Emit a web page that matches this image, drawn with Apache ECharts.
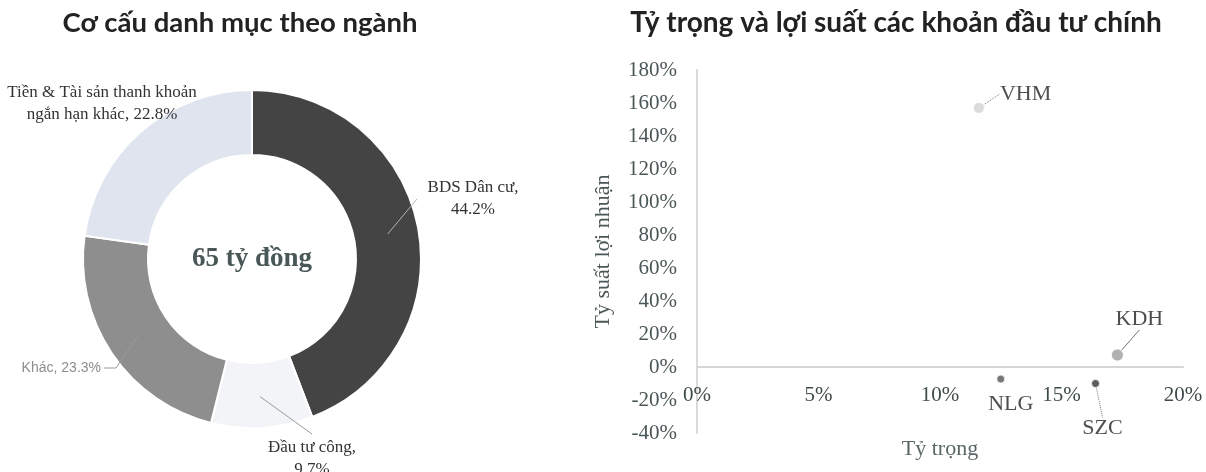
<!DOCTYPE html>
<html><head><meta charset="utf-8">
<script src="https://cdn.jsdelivr.net/npm/echarts@6/dist/echarts.min.js"></script>
<style>html,body{margin:0;padding:0;background:#fff}#c{width:1206px;height:472px}</style>
</head><body><div id="c"></div>
<script>
// ---- data ----
const pieCategories = ['BDS Dân cư', 'Đầu tư công', 'Khác', 'Tiền & Tài sản thanh khoản ngắn hạn khác'];
const pieValues = [44.2, 9.7, 23.3, 22.8];
const pieLabelNames = ['BDS Dân cư,\n', 'Đầu tư công,\n', 'Khác, ', 'Tiền & Tài sản thanh khoản\nngắn hạn khác, '];
const pieColors = ['#444444', '#f2f4f8', '#8e8e8e', '#dfe4ee'];
const pieCenterText = '65 tỷ đồng';

const stocks = ['VHM', 'KDH', 'NLG', 'SZC'];
const weights = [0.116, 0.173, 0.125, 0.164];
const returns = [1.57, 0.073, -0.073, -0.10];

const xTickValues = [0, 0.05, 0.10, 0.15, 0.20];
const yTickValues = [-0.4, -0.2, 0, 0.2, 0.4, 0.6, 0.8, 1.0, 1.2, 1.4, 1.6, 1.8];
const pct = v => Math.round(v * 100) + '%';

// ---- layout ----
const PC = [252, 259];
const total = pieValues.reduce((a, b) => a + b, 0);
function midAngle(i) {
  let s = 0; for (let j = 0; j < i; j++) s += pieValues[j];
  return (s + pieValues[i] / 2) / total * 2 * Math.PI;
}
function ringPt(i, r) { const a = midAngle(i); return [PC[0] + r * Math.sin(a), PC[1] - r * Math.cos(a)]; }
const piePlace = [
  { x: 473, y: 199, align: 'center', line: [[417, 199]] },
  { x: 312, y: 459, align: 'center', line: [[312, 434]] },
  { x: 101, y: 368, align: 'right', line: [[116, 368], [104, 368]] },
  { x: 102, y: 104, align: 'center', line: null }
];
const scatterPlace = {
  VHM: { dx: 21, dy: -14, align: 'left', line: [[0, -4], [1, -15], [11, -15]], dash: 'dotted' },
  KDH: { dx: 22, dy: -36, align: 'center', line: [[3, -3], [22, -19]], dash: 'solid' },
  NLG: { dx: 10, dy: 25, align: 'center', line: null },
  SZC: { dx: 7, dy: 45, align: 'center', line: [[1, 4], [5, 27]], dash: 'dotted' }
};
const markerStyle = {
  VHM: { size: 11, color: '#d2d2d2' },
  KDH: { size: 12, color: '#9c9c9c' },
  NLG: { size: 8, color: '#555555' },
  SZC: { size: 8, color: '#333333' }
};

const serif = 'Liberation Serif';
const pieData = pieCategories.map((n, i) => ({ name: n, value: pieValues[i] }));
const chart = echarts.init(document.getElementById('c'), null, { renderer: 'canvas' });
chart.setOption({
  backgroundColor: '#fff',
  animation: false,
  title: [
    { text: 'Cơ cấu danh mục theo ngành', left: 240, top: 9, textAlign: 'center', padding: 0,
      textStyle: { fontFamily: 'Lato', fontWeight: 'bold', fontSize: 27.5, color: '#222' } },
    { text: 'Tỷ trọng và lợi suất các khoản đầu tư chính', left: 896, top: 9, textAlign: 'center', padding: 0,
      textStyle: { fontFamily: 'Lato', fontWeight: 'bold', fontSize: 28, color: '#222' } },
    { text: pieCenterText, left: PC[0], top: PC[1] - 13, textAlign: 'center', padding: 0,
      textStyle: { fontFamily: serif, fontWeight: 'bold', fontSize: 27, color: '#4a5757' } }
  ],
  grid: { left: 697, right: 23, top: 70, bottom: 39, containLabel: false, outerBoundsMode: 'none' },
  xAxis: {
    type: 'value', min: xTickValues[0], max: xTickValues[xTickValues.length - 1], interval: xTickValues[1] - xTickValues[0],
    axisLine: { show: true, onZero: false, lineStyle: { color: '#d6d6d6', width: 2 } },
    axisTick: { show: false }, splitLine: { show: false },
    axisLabel: { formatter: pct, margin: 18, fontFamily: serif, fontSize: 21, color: '#3f4a4a' },
    name: 'Tỷ trọng', nameLocation: 'middle', nameGap: 71,
    nameTextStyle: { fontFamily: serif, fontSize: 22, color: '#5b6666' }
  },
  yAxis: {
    type: 'value', min: yTickValues[0], max: yTickValues[yTickValues.length - 1], interval: 0.2,
    axisLine: { show: true, lineStyle: { color: '#dadada', width: 2 } },
    axisTick: { show: false }, splitLine: { show: false },
    axisLabel: { formatter: pct, margin: 20, fontFamily: serif, fontSize: 21, color: '#4b5656' },
    name: 'Tỷ suất lợi nhuận', nameLocation: 'middle', nameGap: 83,
    nameTextStyle: { fontFamily: serif, fontSize: 22, color: '#4b5656' }
  },
  series: [
    {
      type: 'pie', z: 2, center: PC, radius: [104, 169], startAngle: 90, clockwise: true,
      itemStyle: { borderColor: '#fff', borderWidth: 2 },
      label: { show: false }, labelLine: { show: false },
      data: pieData.map((d, i) => ({ ...d, itemStyle: { color: pieColors[i] } }))
    },
    {
      // transparent overlay carrying the labels so leader lines sit above the ring
      type: 'pie', z: 5, center: PC, radius: [104, 169], startAngle: 90, clockwise: true,
      avoidLabelOverlap: false, silent: true,
      itemStyle: { color: 'rgba(0,0,0,0)', borderWidth: 0 },
      label: {
        show: true, position: 'outside', fontFamily: serif, fontSize: 17, lineHeight: 22, color: '#333',
        formatter: p => pieLabelNames[p.dataIndex] + p.value.toFixed(1) + '%'
      },
      labelLine: { show: true, lineStyle: { color: '#9a9a9a', width: 1 } },
      labelLayout: p => {
        const L = piePlace[p.dataIndex];
        const o = { x: L.x, y: L.y, align: L.align, verticalAlign: 'middle' };
        if (L.line) o.labelLinePoints = [ringPt(p.dataIndex, 138)].concat(L.line);
        return o;
      },
      data: pieData.map((d, i) => {
        const o = { ...d };
        if (i === 2) o.label = { fontFamily: 'Liberation Sans', fontSize: 14, color: '#8c8c8c' };
        if (i === 0) o.labelLine = { lineStyle: { color: '#b5b5b5' } };
        if (i === 3) o.labelLine = { show: false };
        return o;
      })
    },
    {
      type: 'scatter',
      label: { show: true, formatter: p => p.name, fontFamily: serif, fontSize: 22, color: '#222' },
      labelLine: { show: true, lineStyle: { color: '#777', width: 1 } },
      labelLayout: p => {
        const s = scatterPlace[stocks[p.dataIndex]];
        const cx = p.rect.x + p.rect.width / 2, cy = p.rect.y + p.rect.height / 2;
        const o = { x: cx + s.dx, y: cy + s.dy, align: s.align, verticalAlign: 'middle' };
        if (s.line) o.labelLinePoints = s.line.map(q => [cx + q[0], cy + q[1]]);
        return o;
      },
      data: stocks.map((s, i) => {
        const d = {
          name: s, value: [weights[i], returns[i]], symbolSize: markerStyle[s].size,
          itemStyle: { color: markerStyle[s].color, borderColor: '#fff', borderWidth: 1 }
        };
        if (!scatterPlace[s].line) d.labelLine = { show: false };
        else d.labelLine = { lineStyle: { type: scatterPlace[s].dash } };
        return d;
      })
    }
  ]
});
// move the x axis (line, labels, name) up to the y = 0 level, using the library's own scale
const zeroY = chart.convertToPixel({ yAxisIndex: 0 }, 0);
const bottomY = chart.convertToPixel({ yAxisIndex: 0 }, yTickValues[0]);
chart.setOption({ xAxis: { offset: zeroY - bottomY } });
</script></body></html>
